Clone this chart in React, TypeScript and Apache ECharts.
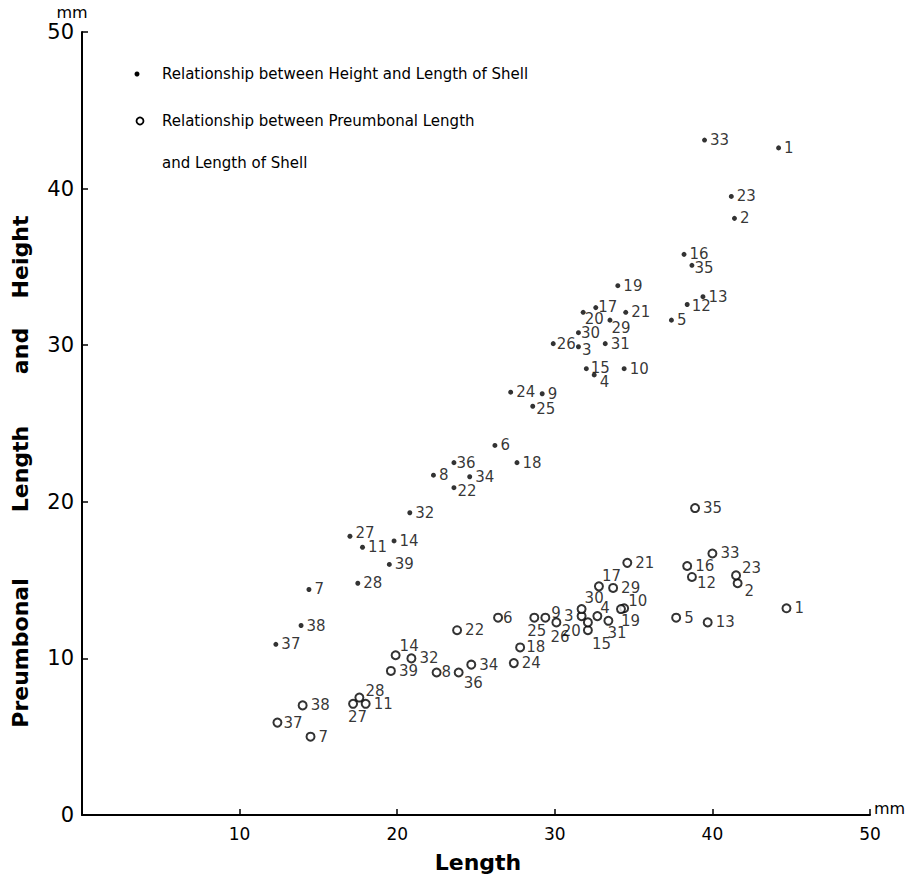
import React, { useEffect, useRef } from "react";
import * as echarts from "echarts";

// Specimen numbers 1..39
const specimenIds = Array.from({ length: 39 }, (_, i) => String(i + 1));

// Height vs Length of shell (filled dots), in specimen order 1..39
const heightLength = [
  44.2, 41.4, 31.5, 32.5, 37.4, 26.2, 14.4, 22.3, 29.2, 34.4,
  17.8, 38.4, 39.4, 19.8, 32.0, 38.2, 32.6, 27.6, 34.0, 31.8,
  34.5, 23.6, 41.2, 27.2, 28.6, 29.9, 17.0, 17.5, 33.5, 31.5,
  33.2, 20.8, 39.5, 24.6, 38.7, 23.6, 12.3, 13.9, 19.5,
];
const heightValues = [
  42.6, 38.1, 29.9, 28.1, 31.6, 23.6, 14.4, 21.7, 26.9, 28.5,
  17.1, 32.6, 33.1, 17.5, 28.5, 35.8, 32.4, 22.5, 33.8, 32.1,
  32.1, 20.9, 39.5, 27.0, 26.1, 30.1, 17.8, 14.8, 31.6, 30.8,
  30.1, 19.3, 43.1, 21.6, 35.1, 22.5, 10.9, 12.1, 16.0,
];

// Preumbonal length vs Length of shell (open circles), specimen order 1..39
const preLength = [
  44.7, 41.6, 31.7, 32.7, 37.7, 26.4, 14.5, 22.5, 29.4, 34.4,
  18.0, 38.7, 39.7, 19.9, 32.1, 38.4, 32.8, 27.8, 34.2, 32.1,
  34.6, 23.8, 41.5, 27.4, 28.7, 30.1, 17.2, 17.6, 33.7, 31.7,
  33.4, 20.9, 40.0, 24.7, 38.9, 23.9, 12.4, 14.0, 19.6,
];
const preValues = [
  13.2, 14.8, 12.7, 12.7, 12.6, 12.6, 5.0, 9.1, 12.6, 13.2,
  7.1, 15.2, 12.3, 10.2, 11.8, 15.9, 14.6, 10.7, 13.15, 12.3,
  16.1, 11.8, 15.3, 9.7, 12.6, 12.3, 7.1, 7.5, 14.5, 13.15,
  12.4, 10.0, 16.7, 9.6, 19.6, 9.1, 5.9, 7.0, 9.2,
];

const xTicks = [0, 10, 20, 30, 40, 50];
const yTicks = [0, 10, 20, 30, 40, 50];

// label placement tweaks (styling only)
const heightLabelOffsets: Record<string, number[]> = {
  "35": [-3, 3], "12": [-1, 2], "20": [-4, 7], "29": [-4, 8], "30": [-3, 0],
  "3": [-2, 3], "4": [0, 7], "26": [-2, 0], "17": [-3, -1], "22": [-2, 3],
  "27": [0, -3], "36": [-3, 0], "25": [-2, 3], "15": [-1, -1],
};
const preLabelOffsets: Record<string, any> = {
  "28": { o: [-2, -7] }, "27": { o: [-13, 13] }, "14": { o: [-4, -9] },
  "36": { o: [-3, 11] }, "25": { o: [-15, 13] }, "9": { o: [-2, -5] },
  "26": { o: [-14, 15] }, "17": { o: [-5, -10] }, "30": { o: [-5, -11] },
  "3": { p: "left", o: [0, 0] }, "20": { p: "left", o: [1, 9] },
  "15": { o: [-4, 14] }, "4": { o: [-5, -8] }, "31": { o: [-9, 12] },
  "19": { o: [-8, 12] }, "10": { o: [-4, -7] }, "12": { o: [-3, 6] },
  "23": { o: [-2, -7] }, "2": { o: [-1, 8] }, "37": { o: [-2, 0] },
  "6": { o: [-3, 0] }, "8": { o: [-3, 0] }, "18": { o: [-2, 0] },
};

const FONT = "DejaVu Sans";

export default function App() {
  const ref = useRef<HTMLDivElement>(null);
  useEffect(() => {
    if (!ref.current) return;
    const chart = echarts.init(ref.current, null, { renderer: "svg" });

    const heightData = specimenIds.map((id, i) => {
      const o = heightLabelOffsets[id] || [0, 0];
      return { value: [heightLength[i], heightValues[i], id], label: { offset: o } };
    });
    const preData = specimenIds.map((id, i) => {
      const s = preLabelOffsets[id] || {};
      return {
        value: [preLength[i], preValues[i], id],
        label: { position: s.p || "right", offset: s.o || [0, 0] },
      };
    });

    const labelStyle = {
      show: true,
      position: "right",
      distance: 3,
      color: "#000",
      fontSize: 15,
      fontFamily: FONT,
      formatter: (p: any) => p.value[2],
    };

    const titleStyle = {
      fill: "#000", fontSize: 22, fontWeight: "bold", fontFamily: FONT,
      align: "center", verticalAlign: "middle",
    };

    const option: any = {
      animation: false,
      backgroundColor: "#fff",
      grid: { left: 82, right: 43, top: 32, bottom: 72 },
      xAxis: {
        type: "value",
        min: xTicks[0],
        max: xTicks[xTicks.length - 1],
        interval: 10,
        axisLine: { show: true, onZero: false, lineStyle: { color: "#000", width: 2 } },
        axisTick: { show: true, inside: true, length: 6, lineStyle: { color: "#000", width: 1.5 } },
        axisLabel: {
          color: "#000", fontSize: 17, fontFamily: FONT, margin: 10,
          formatter: (v: number) => (v === 0 ? "" : String(v)),
        },
        splitLine: { show: false },
      },
      yAxis: {
        type: "value",
        min: yTicks[0],
        max: yTicks[yTicks.length - 1],
        interval: 10,
        axisLine: { show: true, onZero: false, lineStyle: { color: "#000", width: 2 } },
        axisTick: { show: true, inside: true, length: 6, lineStyle: { color: "#000", width: 1.5 } },
        axisLabel: { color: "#000", fontSize: 21, fontFamily: FONT, margin: 8 },
        splitLine: { show: false },
      },
      series: [
        {
          name: "Relationship between Height and Length of Shell",
          type: "scatter",
          symbol: "circle",
          symbolSize: 5,
          itemStyle: { color: "#000" },
          label: labelStyle,
          data: heightData,
          z: 3,
        },
        {
          name: "Relationship between Preumbonal Length and Length of Shell",
          type: "scatter",
          symbol: "circle",
          symbolSize: 8,
          itemStyle: { color: "#fff", borderColor: "#000", borderWidth: 2 },
          label: labelStyle,
          data: preData,
          z: 2,
        },
      ],
      graphic: [
        { type: "circle", shape: { cx: 137, cy: 74, r: 2.5 }, style: { fill: "#000" } },
        { type: "text", x: 162, y: 74, style: { text: "Relationship between Height and Length of Shell", fill: "#000", fontSize: 15, fontFamily: FONT, verticalAlign: "middle" } },
        { type: "circle", shape: { cx: 140, cy: 121, r: 3.5 }, style: { fill: "#fff", stroke: "#000", lineWidth: 1.8 } },
        { type: "text", x: 162, y: 121, style: { text: "Relationship between Preumbonal Length", fill: "#000", fontSize: 15, fontFamily: FONT, verticalAlign: "middle" } },
        { type: "text", x: 162, y: 163, style: { text: "and Length of Shell", fill: "#000", fontSize: 15, fontFamily: FONT, verticalAlign: "middle" } },
        { type: "text", x: 72, y: 12, style: { text: "mm", fill: "#000", fontSize: 16, fontFamily: FONT, align: "center", verticalAlign: "middle" } },
        { type: "text", x: 874, y: 808, style: { text: "mm", fill: "#000", fontSize: 16, fontFamily: FONT, align: "left", verticalAlign: "middle" } },
        { type: "text", x: 478, y: 862, style: { text: "Length", ...titleStyle } },
        { type: "text", x: 20, y: 653, rotation: Math.PI / 2, style: { text: "Preumbonal", ...titleStyle } },
        { type: "text", x: 20, y: 469, rotation: Math.PI / 2, style: { text: "Length", ...titleStyle } },
        { type: "text", x: 20, y: 351, rotation: Math.PI / 2, style: { text: "and", ...titleStyle } },
        { type: "text", x: 20, y: 257, rotation: Math.PI / 2, style: { text: "Height", ...titleStyle } },
      ],
    };
    chart.setOption(option);
    return () => chart.dispose();
  }, []);
  return <div ref={ref} style={{ width: 913, height: 887, margin: -8 }} />;
}
